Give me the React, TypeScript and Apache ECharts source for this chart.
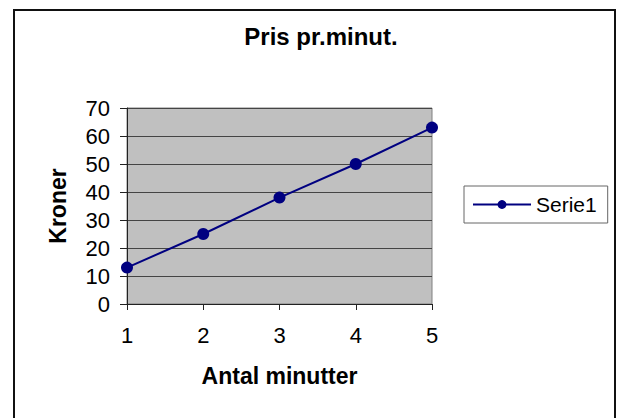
import React, { useEffect, useRef } from "react";
import * as echarts from "echarts";

const categories: string[] = ["1", "2", "3", "4", "5"];
const serie1: number[] = [13, 25, 38, 50, 63];
const seriesName = "Serie1";
const titleText = "Pris pr.minut.";
const xAxisName = "Antal minutter";
const yAxisName = "Kroner";

const FONT = "'Liberation Sans', Arial, sans-serif";

export default function App() {
  const ref = useRef<HTMLDivElement>(null);

  useEffect(() => {
    document.body.style.margin = "0";
    if (!ref.current) return;
    const chart = echarts.init(ref.current, undefined, { renderer: "svg" });
    chart.setOption({
      animation: false,
      backgroundColor: "#ffffff",
      textStyle: { fontFamily: FONT, color: "#000" },
      title: {
        text: titleText,
        left: 316,
        top: 19,
        textAlign: "center",
        textStyle: { fontFamily: FONT, fontSize: 24, fontWeight: "bold", color: "#000" },
      },
      legend: {
        show: true,
        left: 464,
        top: 186,
        orient: "vertical",
        padding: [8, 11, 8, 8],
        borderColor: "#666",
        borderWidth: 1,
        itemWidth: 58,
        itemHeight: 11,
        itemGap: 0,
        textStyle: { fontFamily: FONT, fontSize: 21, color: "#000" },
        data: [seriesName],
      },
      grid: {
        left: 127,
        top: 108,
        right: 186,
        bottom: 114,
        show: true,
        backgroundColor: "#c0c0c0",
        borderColor: "#808080",
        borderWidth: 1,
      },
      xAxis: {
        type: "category",
        data: categories,
        boundaryGap: false,
        name: xAxisName,
        nameLocation: "middle",
        nameGap: 60,
        nameTextStyle: { fontFamily: FONT, fontSize: 23, fontWeight: "bold", color: "#000" },
        axisLine: { show: true, lineStyle: { color: "#222", width: 1 } },
        axisTick: { show: true, length: 6, lineStyle: { color: "#222" } },
        axisLabel: { margin: 20, fontFamily: FONT, fontSize: 22, color: "#000" },
        splitLine: { show: false },
      },
      yAxis: {
        type: "value",
        min: 0,
        max: 70,
        interval: 10,
        name: yAxisName,
        nameLocation: "middle",
        nameRotate: 90,
        nameGap: 58,
        nameTextStyle: { fontFamily: FONT, fontSize: 23, fontWeight: "bold", color: "#000" },
        axisLine: { show: true, lineStyle: { color: "#222", width: 1 } },
        axisTick: { show: true, length: 7, lineStyle: { color: "#222" } },
        axisLabel: { margin: 17, fontFamily: FONT, fontSize: 22, color: "#000" },
        splitLine: { show: true, lineStyle: { color: "#444", width: 1 } },
      },
      series: [
        {
          name: seriesName,
          type: "line",
          data: serie1,
          symbol: "circle",
          symbolSize: 12,
          lineStyle: { color: "#000080", width: 2 },
          itemStyle: { color: "#000080" },
        },
      ],
      graphic: [
        {
          type: "rect",
          shape: { x: 14, y: 10, width: 601, height: 460 },
          style: { fill: "none", stroke: "#111", lineWidth: 2 },
          silent: true,
        },
      ],
    });
    return () => chart.dispose();
  }, []);

  return (
    <div
      ref={ref}
      style={{ position: "fixed", left: 0, top: 0, width: 618, height: 418 }}
    />
  );
}
